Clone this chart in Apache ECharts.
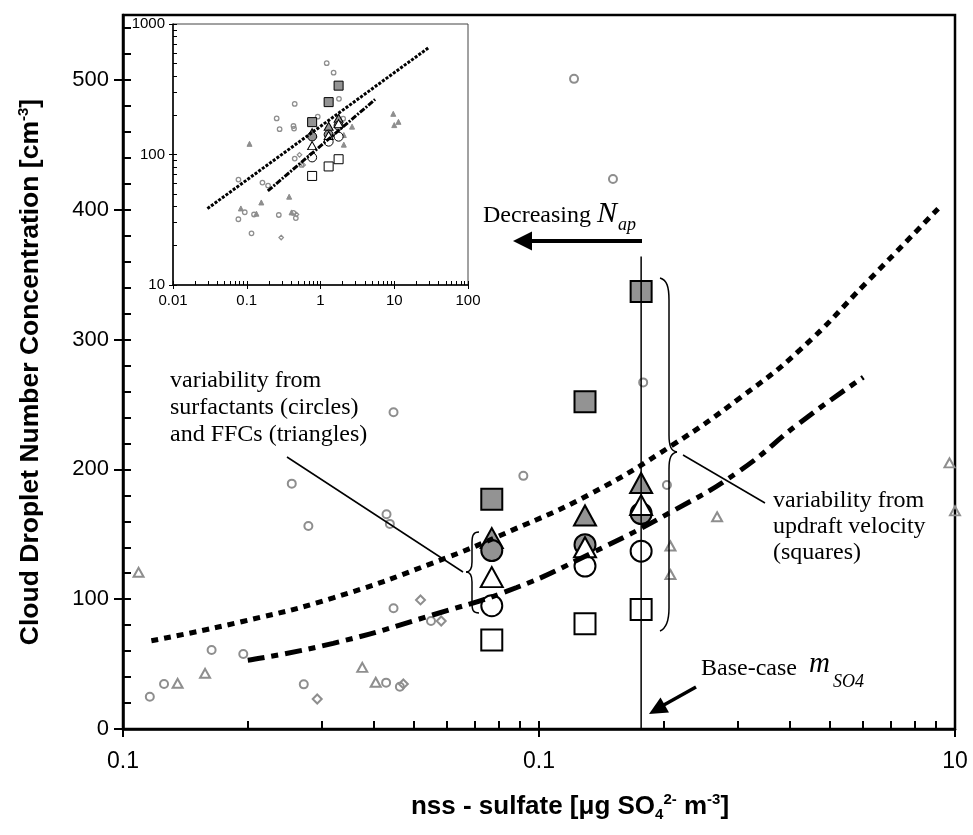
<!DOCTYPE html>
<html>
<head>
<meta charset="utf-8">
<script src="https://cdn.jsdelivr.net/npm/echarts@6/dist/echarts.min.js"></script>
<style>
html, body { margin: 0; padding: 0; background: #fff; }
#chart { width: 973px; height: 835px; }
</style>
</head>
<body>
<div id="chart"></div>
<script>
// ---- axis ticks (main) ----
const xTickValues = [0.1, 1, 10];
const xTickLabels = ['0.1', '0.1', '10'];
const xMinorTicks = [0.1, 0.2, 0.3, 0.4, 0.5, 0.6, 0.7, 0.8, 0.9, 1, 2, 3, 4, 5, 6, 7, 8, 9, 10];
const yTickValues = [0, 100, 200, 300, 400, 500];
const yMinorTicks = [0, 20, 40, 60, 80, 100, 120, 140, 160, 180, 200, 220, 240, 260, 280, 300,
  320, 340, 360, 380, 400, 420, 440, 460, 480, 500, 520, 540];

// ---- axis ticks (inset) ----
const insetXTicks = [0.01, 0.1, 1, 10, 100];
const insetXLabels = ['0.01', '0.1', '1', '10', '100'];
const insetXMinor = [0.01, 0.02, 0.03, 0.04, 0.05, 0.06, 0.07, 0.08, 0.09, 0.1, 0.2, 0.3, 0.4, 0.5,
  0.6, 0.7, 0.8, 0.9, 1, 2, 3, 4, 5, 6, 7, 8, 9, 10, 20, 30, 40, 50, 60, 70, 80, 90, 100];
const insetYTicks = [10, 100, 1000];
const insetYLabels = ['10', '100', '1000'];
const insetYMinor = [10, 20, 30, 40, 50, 60, 70, 80, 90, 100, 200, 300, 400, 500, 600, 700, 800, 900, 1000];

// ---- model results (large markers) ----
const modelX = [0.77, 1.29, 1.76];
const graySquare = [177, 252, 337];
const grayTriangle = [147, 164.5, 189.5];
const grayCircle = [137.5, 142, 166];
const whiteTriangle = [117, 140, 172.5];
const whiteCircle = [95, 125.5, 137];
const whiteSquare = [68.5, 81, 92];

// ---- observations (small grey markers) ----
const obsCircleX = [0.116, 0.1255, 0.1633, 0.1946, 0.2545, 0.279, 0.272, 0.43, 0.438, 0.447, 0.447,
  0.429, 0.463, 0.55, 0.917, 1.214, 1.506, 1.78, 2.03, 0.0772, 0.094, 0.077];
const obsCircleY = [24.9, 34.7, 60.9, 57.8, 189, 156.4, 34.4, 165.4, 158, 244, 93,
  35.7, 32.6, 83.2, 195, 500.8, 423.7, 267, 188, 64.3, 36.1, 31.9];
const obsTriangleX = [0.109, 0.1353, 0.1575, 0.376, 0.405, 2.68, 2.07, 2.07, 9.7, 10.0, 11.4, 0.0832];
const obsTriangleY = [120.7, 35.2, 42.9, 47.5, 36, 163.5, 141, 119, 205, 168, 178, 38.6];
const obsDiamondX = [0.293, 0.472, 0.519, 0.582];
const obsDiamondY = [23.1, 34.7, 99.4, 83.2];

// ---- fitted curves ----
const upperCurveX = [0.117, 0.195, 0.32, 0.557, 0.86, 1.327, 2.10, 3.04, 4.24, 6.13, 9.12];
const upperCurveY = [68, 83, 101, 128, 153, 181, 219, 255, 292, 344, 401];
const lowerCurveX = [0.1995, 0.32, 0.557, 0.884, 1.327, 2.10, 3.04, 4.24, 6.02];
const lowerCurveY = [53, 66, 88, 109, 135, 168, 199, 236, 271];
const insetUpperX = [0.0293, 29];
const insetUpperY = [38.5, 656];
const insetLowerX = [0.193, 5.5];
const insetLowerY = [52.6, 264];

// base-case sulfate line
const baseCaseX = 1.76;
const baseCaseLineY = [0, 364];

const sans = "'Liberation Sans', Arial, sans-serif";
const serif = "'Liberation Serif', 'Times New Roman', serif";
const grey = '#8e8e8e';
const greyFill = '#939393';
const clear = 'rgba(255,255,255,0)';

function pairs(xs, ys) {
  return xs.map((x, i) => [x, ys[i]]);
}

function tickLabel(values, labels) {
  return function (v) {
    for (let i = 0; i < values.length; i++) {
      if (Math.abs(Math.log10(values[i]) - Math.log10(v)) < 1e-6) return labels[i];
    }
    return '';
  };
}

function scatter(name, xi, yi, xs, ys, symbol, size, fill, border, bw) {
  return {
    name: name, type: 'scatter', xAxisIndex: xi, yAxisIndex: yi,
    data: pairs(xs, ys), symbol: symbol, symbolSize: size, clip: true,
    itemStyle: { color: fill, borderColor: border, borderWidth: bw, opacity: 1 },
    silent: true
  };
}

// same data in the main plot and in the log-log inset
function mainAndInset(name, xs, ys, symbol, sizeMain, sizeInset, fill, fillInset, border, bwMain, bwInset) {
  return [
    scatter(name, 0, 0, xs, ys, symbol, sizeMain, fill, border, bwMain),
    scatter(name + 'Inset', 2, 2, xs, ys, symbol, sizeInset, fillInset, border, bwInset)
  ];
}

// brace drawn from line / cubic segments: [x1,y1,x2,y2] or [x1,y1,cx1,cy1,cx2,cy2,x2,y2]
function strokes(segs) {
  const st = { stroke: '#000', lineWidth: 1.5, fill: null };
  return segs.map(s => s.length === 4
    ? { type: 'line', z: 10, silent: true, shape: { x1: s[0], y1: s[1], x2: s[2], y2: s[3] }, style: st }
    : { type: 'bezierCurve', z: 10, silent: true,
        shape: { x1: s[0], y1: s[1], cpx1: s[2], cpy1: s[3], cpx2: s[4], cpy2: s[5], x2: s[6], y2: s[7] }, style: st });
}

const leftBrace = strokes([
  [479, 532, 473, 532, 472, 536, 472, 543],
  [472, 543, 472, 562],
  [472, 562, 472, 569, 470, 572, 466, 572],
  [466, 572, 470, 572, 472, 575, 472, 582],
  [472, 582, 472, 603],
  [472, 603, 472, 610, 473, 613, 479, 613]
]);
const rightBrace = strokes([
  [660, 278, 667, 280, 669, 287, 669, 300],
  [669, 300, 669, 435],
  [669, 435, 669, 446, 671, 451, 677, 452],
  [677, 452, 671, 453, 669, 458, 669, 469],
  [669, 469, 669, 608],
  [669, 608, 669, 620, 667, 628, 660, 631]
]);

const chart = echarts.init(document.getElementById('chart'));

const option = {
  animation: false,
  backgroundColor: '#fff',
  grid: [
    { left: 123, right: 18, top: 15, bottom: 106, show: true, borderColor: '#000', borderWidth: 2.5, backgroundColor: 'transparent' },
    { left: 173, right: 505, top: 24, bottom: 550, show: true, borderColor: '#444', borderWidth: 1, backgroundColor: '#fff' }
  ],
  xAxis: [
    {
      type: 'log', gridIndex: 0, min: 0.1, max: 10, position: 'bottom',
      axisLine: { lineStyle: { color: '#000', width: 2.5 } },
      axisTick: { customValues: xTickValues, inside: false, length: 8, lineStyle: { color: '#000', width: 2 } },
      axisLabel: { customValues: xTickValues, formatter: tickLabel(xTickValues, xTickLabels), fontFamily: sans, fontSize: 23, color: '#000', margin: 21 },
      splitLine: { show: false }
    },
    {
      type: 'log', gridIndex: 0, min: 0.1, max: 10, position: 'bottom',
      axisLine: { show: false },
      axisTick: { customValues: xMinorTicks, inside: true, length: 8, lineStyle: { color: '#000', width: 2 } },
      axisLabel: { show: false },
      splitLine: { show: false }
    },
    {
      type: 'log', gridIndex: 1, min: 0.01, max: 100, position: 'bottom',
      axisLine: { lineStyle: { color: '#000', width: 1.5 } },
      axisTick: { customValues: insetXTicks, inside: false, length: 4, lineStyle: { color: '#000', width: 1 } },
      axisLabel: { customValues: insetXTicks, formatter: tickLabel(insetXTicks, insetXLabels), fontFamily: sans, fontSize: 15, color: '#000', margin: 8 },
      splitLine: { show: false }
    },
    {
      type: 'log', gridIndex: 1, min: 0.01, max: 100, position: 'bottom',
      axisLine: { show: false },
      axisTick: { customValues: insetXMinor, inside: true, length: 4, lineStyle: { color: '#000', width: 1 } },
      axisLabel: { show: false },
      splitLine: { show: false }
    }
  ],
  yAxis: [
    {
      type: 'value', gridIndex: 0, min: 0, max: 550, position: 'left',
      axisLine: { lineStyle: { color: '#000', width: 2.5 } },
      axisTick: { customValues: yTickValues, inside: false, length: 9, lineStyle: { color: '#000', width: 2 } },
      axisLabel: { customValues: yTickValues, fontFamily: sans, fontSize: 22, color: '#000', margin: 14 },
      splitLine: { show: false }
    },
    {
      type: 'value', gridIndex: 0, min: 0, max: 550, position: 'left',
      axisLine: { show: false },
      axisTick: { customValues: yMinorTicks, inside: true, length: 8, lineStyle: { color: '#000', width: 2 } },
      axisLabel: { show: false },
      splitLine: { show: false }
    },
    {
      type: 'log', gridIndex: 1, min: 10, max: 1000, position: 'left',
      axisLine: { lineStyle: { color: '#000', width: 1.5 } },
      axisTick: { customValues: insetYTicks, inside: false, length: 4, lineStyle: { color: '#000', width: 1 } },
      axisLabel: { customValues: insetYTicks, formatter: tickLabel(insetYTicks, insetYLabels), fontFamily: sans, fontSize: 15, color: '#000', margin: 8 },
      splitLine: { show: false }
    },
    {
      type: 'log', gridIndex: 1, min: 10, max: 1000, position: 'left',
      axisLine: { show: false },
      axisTick: { customValues: insetYMinor, inside: true, length: 4, lineStyle: { color: '#000', width: 1 } },
      axisLabel: { show: false },
      splitLine: { show: false }
    }
  ],
  series: [
    {
      name: 'upper', type: 'line', xAxisIndex: 0, yAxisIndex: 0, smooth: 0.5, symbol: 'none',
      data: pairs(upperCurveX, upperCurveY),
      lineStyle: { color: '#000', width: 5, type: [7, 6], cap: 'butt' }, silent: true
    },
    {
      name: 'lower', type: 'line', xAxisIndex: 0, yAxisIndex: 0, smooth: 0.5, symbol: 'none',
      data: pairs(lowerCurveX, lowerCurveY),
      lineStyle: { color: '#000', width: 5, type: [17, 7, 7, 7], cap: 'butt' }, silent: true
    },
    {
      name: 'insetUpper', type: 'line', xAxisIndex: 2, yAxisIndex: 2, symbol: 'none',
      data: pairs(insetUpperX, insetUpperY),
      lineStyle: { color: '#000', width: 3, type: [3, 1.5] }, silent: true
    },
    {
      name: 'insetLower', type: 'line', xAxisIndex: 2, yAxisIndex: 2, symbol: 'none',
      data: pairs(insetLowerX, insetLowerY),
      lineStyle: { color: '#000', width: 3, type: [6, 1.5, 2, 1.5] }, silent: true
    },
    ...mainAndInset('obsCircle', obsCircleX, obsCircleY, 'circle', 8, 4.5, clear, clear, grey, 2, 1.3),
    ...mainAndInset('obsTriangle', obsTriangleX, obsTriangleY, 'triangle', [10, 9], [5, 5], clear, grey, grey, 2, 1),
    ...mainAndInset('obsDiamond', obsDiamondX, obsDiamondY, 'diamond', [9, 9], [4.5, 4.5], clear, clear, grey, 2, 1.2),
    ...mainAndInset('graySquare', modelX, graySquare, 'rect', 21, 9, greyFill, greyFill, '#000', 2, 1),
    ...mainAndInset('whiteSquare', modelX, whiteSquare, 'rect', 21, 9, '#fff', '#fff', '#000', 2, 1),
    ...mainAndInset('grayTriangle', modelX, grayTriangle, 'triangle', [22, 20], [9, 8], greyFill, greyFill, '#000', 2, 1),
    ...mainAndInset('grayCircle', modelX, grayCircle, 'circle', 21, 9, greyFill, greyFill, '#000', 2, 1),
    ...mainAndInset('whiteCircle', modelX, whiteCircle, 'circle', 21, 9, '#fff', '#fff', '#000', 2, 1),
    ...mainAndInset('whiteTriangle', modelX, whiteTriangle, 'triangle', [22, 20], [9, 8], '#fff', '#fff', '#000', 2, 1),
    {
      name: 'baseCase', type: 'line', xAxisIndex: 0, yAxisIndex: 0, symbol: 'none', z: 4,
      data: [[baseCaseX, baseCaseLineY[0]], [baseCaseX, baseCaseLineY[1]]],
      lineStyle: { color: '#000', width: 1.5 }, silent: true
    }
  ],
  graphic: [
    // axis titles
    {
      type: 'text', x: 31, y: 372, rotation: Math.PI / 2, z: 10,
      style: {
        text: '{t|Cloud Droplet Number Concentration [cm}{s|-3}{t|]}',
        align: 'center', verticalAlign: 'middle',
        rich: {
          t: { fontFamily: sans, fontWeight: 'bold', fontSize: 26.5, lineHeight: 30, fill: '#000' },
          s: { fontFamily: sans, fontWeight: 'bold', fontSize: 15, lineHeight: 16, fill: '#000', verticalAlign: 'top' }
        }
      }
    },
    {
      type: 'text', x: 570, y: 807, z: 10,
      style: {
        text: '{t|nss - sulfate [\u03bcg SO}{b|4}{s|2-}{t| m}{s|-3}{t|]}',
        align: 'center', verticalAlign: 'middle',
        rich: {
          t: { fontFamily: sans, fontWeight: 'bold', fontSize: 26, lineHeight: 30, fill: '#000' },
          s: { fontFamily: sans, fontWeight: 'bold', fontSize: 15, lineHeight: 16, fill: '#000', verticalAlign: 'top' },
          b: { fontFamily: sans, fontWeight: 'bold', fontSize: 15, lineHeight: 16, fill: '#000', verticalAlign: 'bottom' }
        }
      }
    },
    // Decreasing N_ap
    { type: 'text', x: 483, y: 216, z: 10, style: { text: 'Decreasing', font: '24px ' + serif, fill: '#000', verticalAlign: 'middle' } },
    { type: 'text', x: 597, y: 214, z: 10, style: { text: 'N', font: 'italic 30px ' + serif, fill: '#000', verticalAlign: 'middle' } },
    { type: 'text', x: 618, y: 225, z: 10, style: { text: 'ap', font: 'italic 18px ' + serif, fill: '#000', verticalAlign: 'middle' } },
    { type: 'line', z: 10, shape: { x1: 642, y1: 241, x2: 528, y2: 241 }, style: { stroke: '#000', lineWidth: 4 } },
    { type: 'polygon', z: 10, shape: { points: [[513, 241], [532, 231.5], [532, 250.5]] }, style: { fill: '#000' } },
    // Base-case m_SO4
    { type: 'text', x: 701, y: 669, z: 10, style: { text: 'Base-case', font: '24px ' + serif, fill: '#000', verticalAlign: 'middle' } },
    { type: 'text', x: 809, y: 664, z: 10, style: { text: 'm', font: 'italic 29px ' + serif, fill: '#000', verticalAlign: 'middle' } },
    { type: 'text', x: 833, y: 682, z: 10, style: { text: 'SO4', font: 'italic 18px ' + serif, fill: '#000', verticalAlign: 'middle' } },
    { type: 'line', z: 10, shape: { x1: 696, y1: 687, x2: 662, y2: 706 }, style: { stroke: '#000', lineWidth: 3.5 } },
    { type: 'polygon', z: 10, shape: { points: [[649, 714], [669, 712.5], [660.5, 697.5]] }, style: { fill: '#000' } },
    // left annotation
    {
      type: 'text', x: 170, y: 367, z: 10,
      style: { text: 'variability from\nsurfactants (circles)\nand FFCs (triangles)', font: '24px ' + serif, lineHeight: 27, fill: '#000', verticalAlign: 'top' }
    },
    { type: 'line', z: 10, shape: { x1: 287, y1: 457, x2: 463, y2: 572 }, style: { stroke: '#000', lineWidth: 1.5 } },
    ...leftBrace,
    // right annotation
    {
      type: 'text', x: 773, y: 488, z: 10,
      style: { text: 'variability from\nupdraft velocity\n(squares)', font: '24px ' + serif, lineHeight: 26, fill: '#000', verticalAlign: 'top' }
    },
    { type: 'line', z: 10, shape: { x1: 683, y1: 455, x2: 765, y2: 503 }, style: { stroke: '#000', lineWidth: 1.5 } },
    ...rightBrace
  ]
};

chart.setOption(option);
</script>
</body>
</html>
